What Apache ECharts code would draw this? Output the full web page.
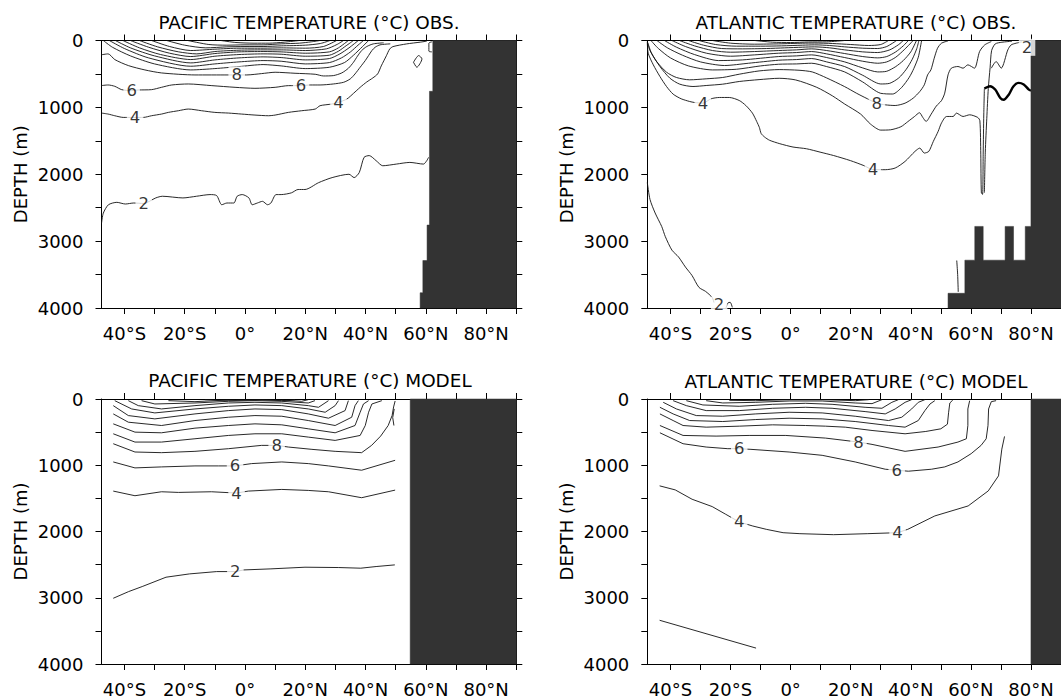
<!DOCTYPE html>
<html><head><meta charset="utf-8">
<script src="https://cdn.jsdelivr.net/npm/echarts@6/dist/echarts.min.js"></script>
<style>html,body{margin:0;padding:0;background:#fff}#c{width:1061px;height:698px}</style>
</head><body><div id="c"></div>
<script>
// ---------- axis ticks / labels ----------
const latTicks = [-40,-30,-20,-10,0,10,20,30,40,50,60,70,80,90];
const latLabels = [-40,-20,0,20,40,60,80];
const depthTicks = [0,500,1000,1500,2000,2500,3000,3500,4000];
const depthLabels = [0,1000,2000,3000,4000];
const titles = ['PACIFIC TEMPERATURE (°C) OBS.','ATLANTIC TEMPERATURE (°C) OBS.','PACIFIC TEMPERATURE (°C) MODEL','ATLANTIC TEMPERATURE (°C) MODEL'];

// ---------- PACIFIC OBS contours [lat, depth] ----------
const pacObs2 = [[-47.6,2734],[-47.0,2582],[-45.3,2456],[-42.5,2420],[-39.7,2445],[-36.9,2430],[-33.6,2437],[-29.6,2354],[-27.4,2329],[-20.6,2354],[-16.1,2329],[-11.6,2304],[-9.4,2319],[-7.7,2456],[-6.0,2430],[-3.7,2430],[-2.6,2329],[-0.9,2304],[1.3,2354],[2.4,2456],[4.1,2430],[5.8,2405],[7.5,2456],[8.6,2430],[10.3,2304],[12.0,2304],[15.4,2278],[17.6,2228],[19.9,2228],[24.4,2126],[28.9,2050],[34.5,2000],[36.2,2050],[37.9,1975],[39.5,1747],[41.2,1721],[43.5,1797],[45.7,1873],[50.2,1848],[54.7,1823],[59.2,1848],[60.3,1797],[60.9,1747]];
const pacObs4 = [[-47.6,1085],[-45.4,1100],[-43.2,1125],[-40.4,1150],[-36.5,1150],[-33.7,1150],[-31.0,1125],[-27.7,1100],[-25.4,1075],[-22.1,1050],[-18.8,1025],[-14.4,1050],[-10.0,1075],[-5.5,1085],[-1.1,1100],[3.3,1115],[7.8,1125],[10.0,1115],[14.4,1075],[18.8,1050],[23.3,1025],[24.9,975],[28.8,950],[31.0,925],[33.8,875],[36.0,790],[38.2,700],[40.4,620],[42.4,560],[44.0,500],[45.2,380],[46.9,228],[48.0,127],[49.1,91],[53.6,51],[58.1,25],[60.3,10]];
const pacObs6 = [[-47.8,675],[-45.4,665],[-43.2,685],[-40.9,735],[-37.6,750],[-35.4,740],[-31.0,735],[-27.7,700],[-24.3,665],[-18.8,650],[-11.0,675],[-3.3,700],[3.3,715],[10.0,700],[14.4,675],[18.6,675],[21.6,665],[24.9,665],[29.3,650],[32.7,625],[34.9,575],[36.5,500],[38.2,400],[39.9,300],[41.0,225],[42.1,150],[43.2,100],[44.8,65],[48.2,50]];
const pacObs8 = [[-47.8,215],[-45.4,200],[-43.2,285],[-38.7,375],[-33.2,440],[-27.7,485],[-16.6,515],[-5.5,515],[-2.75,515],[0.6,515],[5.5,495],[10.0,475],[16.6,490],[23.3,505],[26.0,530],[29.3,525],[32.1,485],[34.3,415],[36.0,325],[37.3,235],[38.7,150],[40.4,90],[42.6,50],[46.0,35]];
const pacObsUpper = [
  [[-47,0],[-44,100],[-38,230],[-30,350],[-18,440],[-10,420],[-2,390],[6,360],[12,380],[20,420],[28,400],[33,330],[36,220],[39,90],[41,0]],
  [[-45,0],[-40,120],[-32,260],[-18,385],[-10,350],[-2,320],[6,300],[12,310],[20,350],[28,330],[32,260],[35,170],[37.5,70],[39.3,0]],
  [[-43,0],[-38,110],[-30,230],[-18,335],[-10,290],[-2,260],[6,245],[12,255],[20,290],[28,270],[31.5,200],[34.5,110],[37.6,0]],
  [[-40.5,0],[-35,110],[-28,210],[-18,285],[-10,235],[-2,210],[6,200],[12,205],[20,235],[28,220],[31,160],[33.5,80],[36,0]],
  [[-38,0],[-32,100],[-25,190],[-18,240],[-10,195],[-2,170],[6,165],[12,170],[20,190],[28,170],[31,110],[34.3,0]],
  [[-35,0],[-29,95],[-22,170],[-16,200],[-10,165],[-2,145],[6,140],[12,140],[20,150],[27,125],[30.5,60],[32.7,0]],
  [[-31,0],[-25,90],[-18,150],[-10,130],[-2,115],[6,115],[12,110],[20,115],[26,90],[30.4,0]],
  [[-26,0],[-20,70],[-13,110],[-6,95],[0,90],[6,90],[12,80],[20,70],[25,45],[28.2,0]],
  [[-19,0],[-12,60],[-6,70],[0,65],[6,65],[12,50],[18,40],[22,20],[24.9,0]],
  [[-8,0],[-3,30],[3,40],[8,40],[13,25],[18,0]]
];
const pacObsLoop = [[55.9,325],[57.6,225],[58.7,275],[57.0,400],[55.9,325]];
const pacObsNotch = [[62,20],[61,40],[61,160],[62,170]];
const pacObsLabels = [[-2.75,515,'8'],[-37.6,750,'6'],[18.6,675,'6'],[-36.5,1150,'4'],[31.0,925,'4'],[-33.6,2437,'2']];
const pacObsLand = [[62.3,0],[90,0],[90,4000],[58.1,4000],[58.1,3772],[59.0,3772],[59.0,3290],[60.4,3290],[60.4,2760],[61.2,2760],[61.2,760],[62.3,760]];

// ---------- ATLANTIC OBS ----------
const atlObs2 = [[-47.7,2124],[-46.8,2377],[-45.1,2579],[-42.9,2782],[-41.7,2933],[-39.5,3135],[-37.3,3237],[-35.0,3388],[-32.8,3515],[-30.5,3692],[-28.3,3752],[-26.1,3843],[-25.5,3919]];
const atlObs2b = [[-21.5,4000],[-20.9,3925],[-20.1,3915],[-19.4,3990]];
const atlObs4 = [[-47.7,16],[-47.4,190],[-45.7,364],[-43.5,538],[-41.3,688],[-39.1,802],[-36.4,872],[-33.6,912],[-32.0,927],[-29.2,937],[-26.5,872],[-23.7,852],[-20.4,852],[-17.1,897],[-14.9,972],[-12.7,1086],[-11.3,1210],[-10.4,1300],[-9.8,1391],[-8.7,1442],[-7.0,1492],[-3.6,1543],[0.8,1593],[5.3,1619],[9.8,1669],[14.3,1720],[19.9,1796],[24.4,1871],[27.4,1930],[31.5,1932],[34.8,1907],[38.1,1808],[41.4,1658],[43.0,1609],[44.5,1683],[46.0,1658],[47.5,1509],[49.1,1360],[50.2,1235],[51.9,1136],[54.1,1136],[55.2,1086],[57.4,1136],[59.6,1111],[62.3,1151],[63.0,1200],[63.3,1700],[63.5,2280],[63.9,2300],[64.1,1700],[64.3,1100],[64.5,719]];
const atlObsBold = [[64.5,719],[66.4,683],[68.1,734],[69.8,860],[70.9,886],[72.6,810],[74.2,683],[75.9,633],[77.6,658],[79.3,734],[80,750]];
const atlObsTongue = [[73.7,11],[70.3,26],[68.1,51],[66.9,152],[66.4,405],[65.8,719],[65.3,1164],[64.8,1669],[64.5,2276]];
const atlObsNE = [[66.8,414],[68.4,315],[70.1,414],[72.3,140],[73.4,66],[75.0,41],[77.0,20]];
const atlObsSmall = [[55.3,3290],[55.6,3500],[55.8,3760]];
const atlObs6 = [[-47.5,41],[-46.3,190],[-43.5,389],[-40.2,563],[-36.9,653],[-32.5,688],[-28.1,673],[-22.6,653],[-17.1,613],[-10.5,585],[-3.8,565],[1.7,590],[8.7,700],[14,830],[18,950],[23.3,1100],[26.6,1250],[30.0,1340],[33.3,1335],[36.7,1290],[39.0,1214],[41.2,1138],[42.9,1080],[44.0,1150],[45.1,1210],[46.8,1100],[48.5,980],[50.2,900],[51.3,787],[52.4,514],[53.5,414],[55.7,389],[57.4,414],[59.0,364],[61.2,414],[62.9,165],[64.6,66],[66.8,16]];
const atlObs8 = [[-47.6,26],[-46.9,140],[-44.6,314],[-41.3,474],[-38.0,553],[-33.6,588],[-28.1,573],[-22.6,553],[-17.1,504],[-10.5,455],[-3.8,435],[2.8,445],[7.2,470],[12,560],[18,690],[22,790],[25.5,870],[28.7,937],[31.5,962],[34.8,972],[38.1,937],[40.8,862],[43.0,763],[44.5,663],[45.6,514],[46.7,439],[47.8,265],[48.9,116],[50.2,41],[52.4,6]];
const atlObsUpper = [
  [[-46.5,0],[-44,120],[-40,260],[-34,380],[-26,440],[-18,430],[-10,380],[-4,355],[2,350],[7,340],[12,390],[18,470],[24,620],[30,790],[34,800],[37,700],[39.5,550],[41,420],[42.5,250],[43.6,0]],
  [[-44.5,0],[-41,110],[-36,220],[-30,320],[-22,374],[-14,340],[-4,295],[2,285],[7,270],[12,320],[18,390],[24,520],[30,650],[33,640],[36,560],[38.5,430],[40.5,280],[42,120],[42.7,0]],
  [[-42,0],[-38,100],[-32,210],[-24,300],[-16,290],[-4,240],[2,230],[7,215],[12,255],[18,320],[24,410],[29,470],[32,460],[35,390],[37.5,300],[40,170],[41.9,0]],
  [[-39.5,0],[-35,90],[-28,190],[-20,235],[-12,215],[-4,190],[2,180],[7,165],[12,200],[18,255],[24,310],[29,340],[32,320],[35,250],[38,130],[40.8,0]],
  [[-37,0],[-32,80],[-26,150],[-20,175],[-12,165],[-4,150],[2,140],[7,125],[12,150],[18,195],[24,240],[29,260],[32,240],[35,170],[37.5,80],[39.2,0]],
  [[-34,0],[-29,70],[-23,120],[-16,125],[-8,120],[-2,110],[4,100],[8,95],[13,110],[18,140],[24,170],[29,180],[33,140],[36,60],[37.5,0]],
  [[-30.5,0],[-25,60],[-18,85],[-10,85],[-3,80],[4,70],[8,65],[13,75],[18,95],[24,115],[29,120],[32,90],[35.3,0]],
  [[-26,0],[-20,40],[-12,55],[-4,50],[4,40],[8,38],[14,45],[20,60],[26,75],[30,60],[32.6,0]],
  [[-12,0],[-6,25],[0,30],[6,22],[12,20],[18,0]]
];
const atlObsLabels = [[-29.2,937,'4'],[28.7,937,'8'],[27.4,1930,'4'],[-23.8,3955,'2'],[78.7,102,'2']];
const atlObsLand = [[80,0],[90,0],[90,4000],[52.4,4000],[52.4,3780],[58.0,3780],[58.0,3285],[61.3,3285],[61.3,2780],[64.1,2780],[64.1,3285],[71.4,3285],[71.4,2780],[74.2,2780],[74.2,3285],[78.1,3285],[78.1,2780],[80,2780]];

// ---------- PACIFIC MODEL ----------
const pacMod2 = [[-43.7,3008],[-38.6,2907],[-34.1,2831],[-26.2,2690],[-18.4,2640],[-9.4,2605],[-3.2,2605],[-0.4,2580],[8.6,2564],[19.9,2539],[31.1,2544],[38.4,2554],[43.5,2529],[49.7,2504]];
const pacMod4 = [[-43.7,1390],[-36.5,1460],[-27.7,1400],[-22.1,1410],[-11.1,1400],[-2.8,1420],[1.1,1390],[12.2,1365],[21.0,1380],[27.7,1400],[38.7,1490],[49.8,1375]];
const pacMod6 = [[-43.7,950],[-36.5,1040],[-27.7,1025],[-16.6,1010],[-8.8,1010],[-3.3,1010],[2.2,975],[12.2,950],[21.0,975],[27.7,1010],[38.7,1075],[49.8,925]];
const pacMod8 = [[-43.7,675],[-36.5,800],[-27.7,810],[-16.6,790],[-5.5,750],[5.5,700],[10.5,700],[14.4,725],[22.2,760],[29.9,790],[38.7,810],[42,700],[45,560],[47.5,400],[48.8,250],[49.3,120],[49.8,30]];
const pacModUpper = [
  [[-43.7,525],[-36.5,650],[-27.7,650],[-16.6,600],[-5.5,550],[3.3,525],[12.2,525],[21.0,575],[29.9,625],[38.2,550],[39.9,400],[41.0,200],[42.1,75],[45.4,25]],
  [[-43.7,375],[-36.5,500],[-27.7,510],[-16.6,440],[-5.5,400],[3.3,375],[12.2,390],[21.0,450],[29.9,510],[36.5,400],[38.2,200],[39.3,75],[41.0,25]],
  [[-43.7,225],[-38.7,350],[-27.7,400],[-16.6,325],[-5.5,275],[3.3,250],[12.2,260],[21.0,325],[29.9,400],[35.4,275],[36.5,100],[37.6,25]],
  [[-43.7,100],[-38.7,250],[-29.9,300],[-16.6,225],[-5.5,175],[3.3,150],[12.2,160],[21.0,225],[27.7,290],[33.2,175],[34.3,25]],
  [[-43.2,25],[-37.6,150],[-29.9,210],[-16.6,150],[-5.5,110],[3.3,90],[12.2,100],[21.0,150],[26.6,200],[29.9,100],[31.0,25]],
  [[-38.7,25],[-35.4,100],[-27.7,150],[-16.6,100],[-5.5,60],[3.3,50],[12.2,60],[21.0,100],[24.4,125],[27.7,25]],
  [[-34.3,25],[-29.9,75],[-16.6,60],[-5.5,35],[3.3,25],[12.2,35],[21.0,60],[23.2,25]],
  [[-25.4,25],[-16.6,40],[-5.5,15],[12.2,15],[18.8,35],[21.0,10]],
  [[-13.3,10],[-3.3,20],[5.5,10],[12.2,25],[16.6,10]]
];
const pacModEdge = [[49.5,150],[49.0,280],[49.4,400]];
const pacModLabels = [[10.5,700,'8'],[-3.3,1010,'6'],[-2.8,1420,'4'],[-3.2,2605,'2']];
const pacModLand = [[54.8,0],[90,0],[90,4000],[54.8,4000]];

// ---------- ATLANTIC MODEL ----------
const atlMod4 = [[-43.6,1311],[-38.4,1372],[-32.8,1513],[-26.1,1624],[-21.6,1740],[-17.1,1856],[-12.6,1917],[-8.1,1967],[-2.5,2018],[3.1,2033],[14.3,2048],[25.5,2033],[35.6,2018],[39.0,1967],[48.0,1765],[59.1,1614],[65.8,1387],[69.2,1160],[70.3,757],[71.2,565]];
const atlMod6 = [[-43.5,510],[-35.8,675],[-28.1,725],[-20.9,750],[-17.1,750],[-13.2,760],[-0.5,800],[10.5,850],[21.5,950],[31.5,1060],[35.3,1075],[39.2,1090],[46.9,1060],[51.3,1025],[55.7,950],[60.1,825],[63.4,700],[65.1,600],[65.7,400],[65.9,150],[66.8,40],[68.4,25]];
const atlMod8 = [[-43.5,400],[-35.8,550],[-24.8,560],[-13.8,550],[-1.6,550],[11.6,590],[22.6,650],[27.1,685],[38.1,790],[49.1,725],[55.7,650],[58.5,600],[59.0,400],[59.0,150],[59.6,25]];
const atlModUpper = [
  [[-43.5,225],[-39.1,325],[-35.8,400],[-28.1,425],[-17.1,410],[-6.0,390],[5.0,400],[11.6,410],[18.2,425],[27.1,475],[38.1,525],[45,490],[50,450],[52.2,380],[52.6,200],[53,60],[54,15]],
  [[-43.5,125],[-39.1,225],[-33.6,325],[-22.6,340],[-11.6,310],[-0.5,290],[10.5,300],[21.5,340],[32.6,400],[38.1,425],[42.5,325],[44.7,175],[46.4,75],[48,25]],
  [[-42.4,50],[-38,150],[-31.4,250],[-22.6,260],[-11.6,225],[-0.5,200],[10.5,210],[21.5,260],[32.6,325],[37,275],[40.3,150],[42.5,50],[44.7,10]],
  [[-39.1,25],[-34.7,100],[-28.1,175],[-17.1,175],[-6.0,140],[5.0,125],[13.8,140],[24.8,190],[31.5,225],[34.8,150],[38.1,50],[40.3,10]],
  [[-34.7,25],[-29.2,90],[-17.1,110],[-6.0,80],[5.0,65],[13.8,80],[24.8,125],[30.4,140],[33.7,50],[35.9,10]],
  [[-28.1,25],[-22.6,60],[-11.6,50],[-0.5,30],[10.5,30],[21.5,60],[27.1,70],[30.4,10]],
  [[-20.4,20],[-11.6,25],[-0.5,10],[10.5,10],[21.5,25],[26,10]]
];
const atlModDeep = [[-43.6,3340],[-11.5,3760]];
const atlModLabels = [[-17.1,750,'6'],[35.3,1075,'6'],[22.6,650,'8'],[-17.1,1856,'4'],[35.6,2018,'4']];
const atlModLand = [[80,0],[90,0],[90,4000],[80,4000]];

// ---------- layout ----------
const FONT = "'DejaVu Sans', Verdana, sans-serif";
const panels = [
  {grid:{left:101.5,top:40.5,width:414.8,height:267.5}, xmin:-47.6, tx:309, ty:22,
   lines:[pacObs2,pacObs4,pacObs6,pacObs8,...pacObsUpper,pacObsLoop,pacObsNotch], bold:[], labels:pacObsLabels, land:pacObsLand, smooth:0.25},
  {grid:{left:647.3,top:40.5,width:416,height:267.5}, xmin:-47.7, tx:856, ty:22,
   lines:[atlObs2,atlObs2b,atlObs4,atlObs6,atlObs8,...atlObsUpper,atlObsTongue,atlObsNE,atlObsSmall], bold:[atlObsBold], labels:atlObsLabels, land:atlObsLand, smooth:0.25},
  {grid:{left:101.5,top:399,width:414.8,height:268.5}, xmin:-47.6, tx:310, ty:380,
   lines:[pacMod2,pacMod4,pacMod6,pacMod8,...pacModUpper,pacModEdge], bold:[], labels:pacModLabels, land:pacModLand, smooth:0},
  {grid:{left:647.3,top:399,width:416,height:268.5}, xmin:-47.7, tx:856, ty:381,
   lines:[atlMod4,atlMod6,atlMod8,...atlModUpper,atlModDeep], bold:[], labels:atlModLabels, land:atlModLand, smooth:0}
];

const latFmt = v => v < 0 ? (-v) + '°S' : (v === 0 ? '0°' : v + '°N');
const depthFmt = v => String(Math.round(v));
const axLine = {show:true, onZero:false, lineStyle:{color:'#000', width:1}};
const grids = [], xAxes = [], yAxes = [], series = [], graphics = [];

panels.forEach((p, i) => {
  grids.push(Object.assign({containLabel:false}, p.grid));
  ['bottom','top'].forEach(pos => xAxes.push({
    type:'value', gridIndex:i, position:pos, min:p.xmin, max:90,
    axisLine:axLine,
    axisTick:{show:true, inside:false, length:6, customValues:latTicks, lineStyle:{color:'#000'}},
    axisLabel:{show:pos==='bottom', customValues:latLabels, formatter:latFmt, fontSize:18, color:'#000', margin:16, fontFamily:FONT},
    splitLine:{show:false}
  }));
  ['left','right'].forEach(pos => yAxes.push({
    type:'value', gridIndex:i, position:pos, min:0, max:4000, inverse:true,
    axisLine:axLine,
    axisTick:{show:true, inside:false, length:6, customValues:depthTicks, lineStyle:{color:'#000'}},
    axisLabel:{show:pos==='left', customValues:depthLabels, formatter:depthFmt, fontSize:18, color:'#000', margin:18, fontFamily:FONT},
    splitLine:{show:false},
    name: pos==='left' ? 'DEPTH (m)' : '', nameLocation:'middle', nameGap:72,
    nameTextStyle:{fontSize:18, color:'#000', fontFamily:FONT}
  }));
  const xi = 2*i, yi = 2*i;
  p.lines.forEach(d => series.push({
    type:'line', xAxisIndex:xi, yAxisIndex:yi, data:d, symbol:'none', showSymbol:false,
    smooth:p.smooth, lineStyle:{color:'#111', width:0.9}, silent:true, z:2, animation:false
  }));
  p.bold.forEach(d => series.push({
    type:'line', xAxisIndex:xi, yAxisIndex:yi, data:d, symbol:'none', showSymbol:false,
    smooth:0.3, lineStyle:{color:'#000', width:2.4}, silent:true, z:2, animation:false
  }));
  const land = p.land;
  series.push({
    type:'custom', xAxisIndex:xi, yAxisIndex:yi, data:[[land[0][0], land[0][1]]], silent:true, z:3, animation:false,
    renderItem:(params, api) => ({type:'polygon', shape:{points: land.map(q => api.coord(q))}, style:{fill:'#333', stroke:'#333', lineWidth:0.5}})
  });
  series.push({
    type:'scatter', xAxisIndex:xi, yAxisIndex:yi, data:p.labels, symbolSize:0.1, silent:true, z:6, animation:false,
    itemStyle:{color:'rgba(0,0,0,0)'},
    label:{show:true, position:'inside', formatter:q => String(q.value[2]), fontSize:16.5, color:'#000',
      backgroundColor:'#fff', padding:[0,3], fontFamily:FONT}
  });
  graphics.push({type:'text', x:p.tx, y:p.ty, silent:true,
    style:{text:titles[i], font:'18.4px ' + FONT, fill:'#000', align:'center', verticalAlign:'middle', textAlign:'center', textVerticalAlign:'middle'}});
});

const chart = echarts.init(document.getElementById('c'), null, {renderer:'svg'});
chart.setOption({
  animation:false,
  backgroundColor:'#fff',
  textStyle:{fontFamily:FONT},
  grid:grids, xAxis:xAxes, yAxis:yAxes, series:series, graphic:graphics
});
</script></body></html>
